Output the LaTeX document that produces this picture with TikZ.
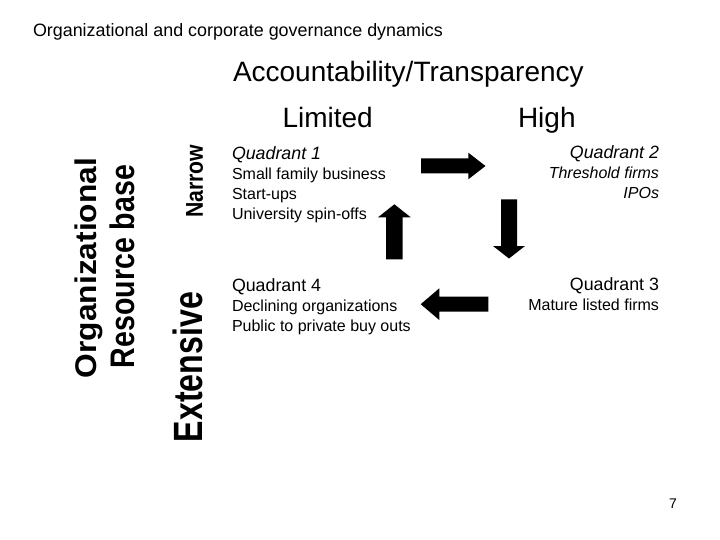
\documentclass[tikz,border=0pt]{standalone}
\usepackage{fontspec}
\usepackage{graphicx}
\setmainfont{Liberation Sans}
\newcommand{\fsz}[1]{\fontsize{#1}{#1}\selectfont}
\begin{document}
\begin{tikzpicture}[x=1pt,y=-1pt,
  every node/.style={inner sep=0pt,outer sep=0pt},
  title/.style={anchor=base west,font=\fsz{17.9}},
  axislabel/.style={anchor=base west,font=\fsz{28}},
  head/.style={font=\fsz{17.8}},
  body/.style={font=\fsz{16}},
  lefttext/.style={anchor=base west},
  righttext/.style={anchor=base east},
  vlabel/.style={rotate=90,anchor=center,font=\bfseries},
  blockarrow/.style={fill=black,draw=none}]
\useasboundingbox (0,0) rectangle (720,540);
\fill[white] (0,0) rectangle (720,540);

% titles
\node[title] (title) at (33,36.5) {Organizational and corporate governance dynamics};
\node[axislabel] (acc) at (233,81.7) {Accountability/Transparency};
\node[axislabel] (limited) at (282.5,127.3) {Limited};
\node[axislabel] (high) at (518,127.3) {High};

% vertical labels
\node[vlabel] (org) at (89,268) {\resizebox*{220pt}{28pt}{Organizational}};
\node[vlabel] (res) at (122.5,266.5) {\resizebox*{203pt}{25pt}{Resource base}};
\node[vlabel] (narrow) at (194.5,181.5) {\resizebox*{73pt}{17pt}{Narrow}};
\node[vlabel] (ext) at (188,367) {\resizebox*{150pt}{30pt}{Extensive}};

% quadrant 1
\node[head,lefttext] (q1) at (232,159.3) {\itshape Quadrant 1};
\node[body,lefttext] (q1a) at (232,179.3) {Small family business};
\node[body,lefttext] (q1b) at (232,199.3) {Start-ups};
\node[body,lefttext] (q1c) at (232,219.3) {University spin-offs};

% quadrant 2
\node[head,righttext] (q2) at (659,158.3) {\itshape Quadrant 2};
\node[body,righttext] (q2a) at (659,178.3) {\itshape Threshold firms};
\node[body,righttext] (q2b) at (659,198.3) {\itshape IPOs};

% quadrant 4
\node[head,lefttext] (q4) at (232,291) {Quadrant 4};
\node[body,lefttext] (q4a) at (232,311) {Declining organizations};
\node[body,lefttext] (q4b) at (232,331) {Public to private buy outs};

% quadrant 3
\node[head,righttext] (q3) at (659,290.7) {Quadrant 3};
\node[body,righttext] (q3a) at (659,310.7) {Mature listed firms};

% block arrows
\fill[blockarrow] (421,158.3) -- (468.3,158.3) -- (468.3,152.7) -- (485.5,166) -- (468.3,179.3) -- (468.3,173.3) -- (421,173.3) -- cycle;
\fill[blockarrow] (501,199.3) -- (517,199.3) -- (517,246) -- (525,246) -- (509,258.5) -- (493,246) -- (501,246) -- cycle;
\fill[blockarrow] (386,259.3) -- (402.7,259.3) -- (402.7,217.3) -- (410.7,217.3) -- (394.4,204.3) -- (378,217.3) -- (386,217.3) -- cycle;
\fill[blockarrow] (488.3,296.7) -- (439.3,296.7) -- (439.3,288.3) -- (420.7,304.2) -- (439.3,320) -- (439.3,311.7) -- (488.3,311.7) -- cycle;

% page number
\node[anchor=base,font=\fsz{14}] (page) at (673,508) {7};
\end{tikzpicture}
\end{document}
